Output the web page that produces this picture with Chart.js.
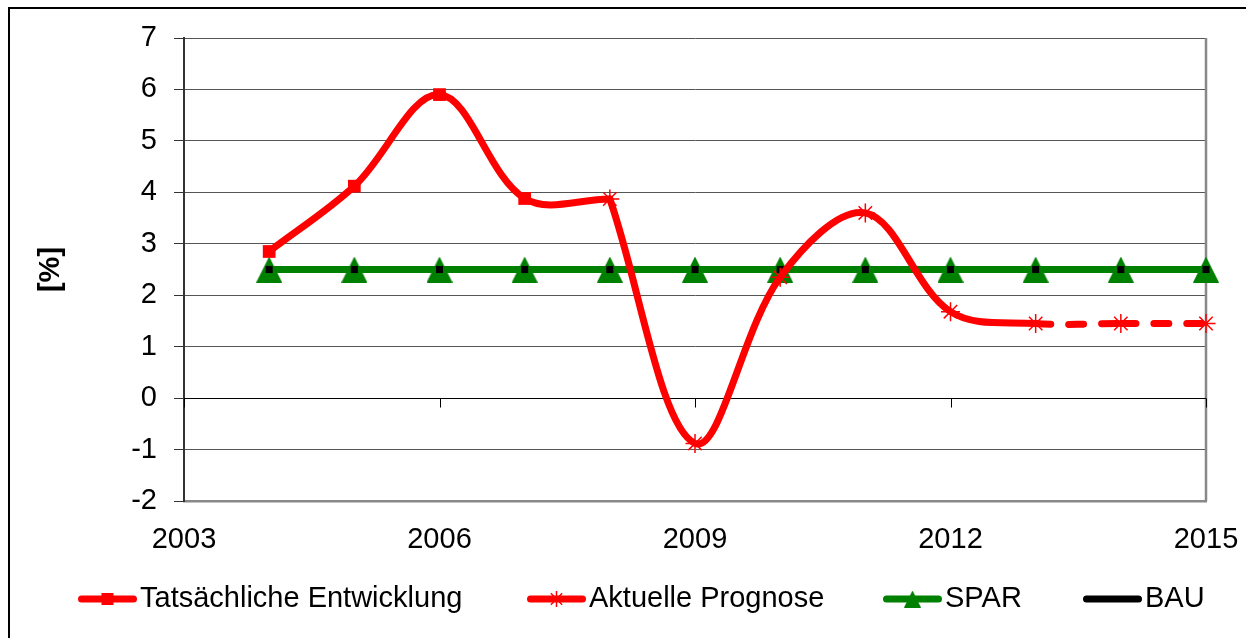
<!DOCTYPE html>
<html>
<head>
<meta charset="utf-8">
<script src="https://cdn.jsdelivr.net/npm/chart.js@4.4.1/dist/chart.umd.min.js"></script>
<style>
  body { margin: 0; background: #fff; }
  #wrap { width: 1246px; height: 638px; }
</style>
</head>
<body>
<div id="wrap"><canvas id="myChart" width="1246" height="638"></canvas></div>
<script>
// Wachstum in Prozent, tatsaechlich und Prognose, gegen die Szenarien SPAR / BAU
var tatsYears  = [2004, 2005, 2006, 2007, 2008];
var tatsValues = [2.85, 4.12, 5.9, 3.88, 3.87];

var progYears  = [2008, 2009, 2010, 2011, 2012, 2013, 2014, 2015];
var progValues = [3.87, -0.88, 2.35, 3.6, 1.68, 1.45, 1.45, 1.45];

var szenYears  = [2004, 2005, 2006, 2007, 2008, 2009, 2010, 2011, 2012, 2013, 2014, 2015];
var sparValues = [2.5, 2.5, 2.5, 2.5, 2.5, 2.5, 2.5, 2.5, 2.5, 2.5, 2.5, 2.5];
var bauValues  = [2.5, 2.5, 2.5, 2.5, 2.5, 2.5, 2.5, 2.5, 2.5, 2.5, 2.5, 2.5];

var xTicks = [2003, 2006, 2009, 2012, 2015];
var yTicks = [-2, -1, 0, 1, 2, 3, 4, 5, 6, 7];
var dashFrom = 2013;   // ab hier gestrichelt

var FONT = '"Liberation Sans", Arial, sans-serif';
Chart.defaults.font.family = FONT;
Chart.defaults.font.size = 29;
Chart.defaults.color = '#000';

// linke Kante der Legendeneintraege
var legendX = [78, 527, 883, 1083];

function points(xs, ys) {
    return xs.map(function(x, i) { return { x: x, y: ys[i] }; });
}

// gleichschenkliges Dreieck, mittig um den Punkt
function triangle(size, color) {
    var c = document.createElement('canvas');
    c.width = size; c.height = size;
    var g = c.getContext('2d');
    g.fillStyle = color;
    g.beginPath();
    g.moveTo(size / 2, 0);
    g.lineTo(size, size);
    g.lineTo(0, size);
    g.closePath();
    g.fill();
    return c;
}
var triBig = triangle(26, '#008000');
var triSmall = triangle(17, '#008000');

var frame = {
    id: 'frame',
    beforeDraw: function(chart) {
        var ctx = chart.ctx;
        ctx.save();
        ctx.fillStyle = '#fff';
        ctx.fillRect(0, 0, chart.width, chart.height);
        ctx.strokeStyle = '#000';
        ctx.lineWidth = 2;
        ctx.beginPath();
        ctx.moveTo(9, chart.height);
        ctx.lineTo(9, 8);
        ctx.lineTo(chart.width, 8);
        ctx.stroke();
        ctx.restore();
    },
    beforeDatasetsDraw: function(chart) {
        var ctx = chart.ctx, a = chart.chartArea;
        var xs = chart.scales.x, ys = chart.scales.y;
        var y0 = Math.round(ys.getPixelForValue(0)) + 0.5;
        ctx.save();
        // rechter Rand
        ctx.strokeStyle = '#888';
        ctx.lineWidth = 2.5;
        ctx.beginPath();
        ctx.moveTo(a.right, a.top);
        ctx.lineTo(a.right, a.bottom);
        ctx.stroke();
        // Rubrikenachse bei 0 mit Teilstrichen
        ctx.strokeStyle = '#000';
        ctx.lineWidth = 1;
        ctx.beginPath();
        ctx.moveTo(a.left, y0);
        ctx.lineTo(a.right, y0);
        xTicks.forEach(function(v) {
            var px = Math.round(xs.getPixelForValue(v)) + 0.5;
            ctx.moveTo(px, y0);
            ctx.lineTo(px, y0 + 9);
        });
        ctx.stroke();
        ctx.restore();
    },
    afterDraw: function(chart) {
        var ctx = chart.ctx;
        var yc = 599;
        ctx.save();
        ctx.font = '29px ' + FONT;
        ctx.textBaseline = 'middle';
        ctx.textAlign = 'left';
        chart.data.datasets.forEach(function(ds, i) {
            var x = legendX[i];
            ctx.strokeStyle = ds.borderColor;
            ctx.lineWidth = 7;
            ctx.lineCap = 'round';
            ctx.setLineDash([]);
            ctx.beginPath();
            ctx.moveTo(x + 3.5, yc);
            ctx.lineTo(x + 55.5, yc);
            ctx.stroke();
            var m = ds.legendMarker;
            if (m) {
                ctx.fillStyle = m.fill || 'rgba(0,0,0,0)';
                ctx.strokeStyle = m.stroke || 'rgba(0,0,0,0)';
                ctx.lineWidth = m.borderWidth || 0;
                ctx.lineCap = 'butt';
                Chart.helpers.drawPoint(ctx, {
                    pointStyle: m.style, radius: m.radius, rotation: 0,
                    borderWidth: m.borderWidth || 0
                }, x + 29.5, yc);
            }
            ctx.fillStyle = '#000';
            ctx.fillText(ds.label, x + 62, yc);
        });
        ctx.restore();
    }
};

var config = {
    type: 'line',
    data: {
        datasets: [{
            label: 'Tatsächliche Entwicklung',
            data: points(tatsYears, tatsValues),
            order: 0,
            borderColor: '#ff0000',
            borderWidth: 7,
            borderCapStyle: 'round',
            tension: 0.35,
            pointStyle: 'rect',
            pointRadius: [9, 9, 9, 9, 0],
            pointBackgroundColor: '#ff0000',
            pointBorderWidth: 0,
            clip: false,
            legendMarker: { style: 'rect', radius: 8.5, fill: '#ff0000' }
        }, {
            label: 'Aktuelle Prognose',
            data: points(progYears, progValues),
            order: 1,
            borderColor: '#ff0000',
            borderWidth: 7,
            borderCapStyle: 'round',
            tension: 0.35,
            pointStyle: 'star',
            pointRadius: 9.5,
            pointBorderColor: '#ff0000',
            pointBorderWidth: 1.5,
            clip: false,
            segment: {
                // jedes Teilstueck beginnt sein Strichmuster neu
                borderDash: function(c) { return c.p0.parsed.x >= dashFrom ? [15, 18] : undefined; },
                borderDashOffset: function(c) { return c.p0.parsed.x >= dashFrom ? c.p0DataIndex * 0.001 : undefined; }
            },
            legendMarker: { style: 'star', radius: 8, borderWidth: 1.5, stroke: '#ff0000' }
        }, {
            label: 'SPAR',
            data: points(szenYears, sparValues),
            order: 3,
            borderColor: '#008000',
            borderWidth: 7,
            tension: 0,
            pointStyle: triBig,
            pointRadius: 13,
            clip: false,
            legendMarker: { style: triSmall, radius: 9 }
        }, {
            label: 'BAU',
            data: points(szenYears, bauValues),
            order: 2,
            showLine: false,
            borderColor: '#000000',
            pointStyle: 'rect',
            pointRadius: 5,
            pointBackgroundColor: '#000000',
            pointBorderWidth: 0,
            clip: false
        }]
    },
    options: {
        responsive: false,
        animation: false,
        devicePixelRatio: 1,
        events: [],
        layout: { padding: { left: 0, top: 38, right: 40, bottom: 0 } },
        plugins: {
            legend: { display: false },
            tooltip: { enabled: false }
        },
        scales: {
            x: {
                type: 'linear',
                min: 2003,
                max: 2015,
                afterBuildTicks: function(s) { s.ticks = xTicks.map(function(v) { return { value: v }; }); },
                afterFit: function(s) {
                    s.height = 137;
                    s.paddingLeft = 0;
                    s.paddingRight = 0;
                },
                ticks: { padding: 22, callback: function(v) { return String(v); } },
                grid: { display: false, drawTicks: false },
                border: { color: '#888', width: 2.5 }
            },
            y: {
                min: -2,
                max: 7,
                afterBuildTicks: function(s) { s.ticks = yTicks.map(function(v) { return { value: v }; }); },
                afterFit: function(s) {
                    s.width = 184;
                    s.paddingTop = 0;
                    s.paddingBottom = 0;
                },
                ticks: { padding: 17, callback: function(v) { return String(v); } },
                grid: { color: '#555', lineWidth: 1, tickLength: 10, tickColor: '#333' },
                border: { color: '#333', width: 2 },
                title: {
                    display: true,
                    text: '[%]',
                    font: { size: 29, weight: 'bold' },
                    padding: { top: 34, bottom: 0 }
                }
            }
        }
    },
    plugins: [frame]
};

window.onload = function() {
    window.myLine = new Chart(document.getElementById('myChart'), config);
};
</script>
</body>
</html>
